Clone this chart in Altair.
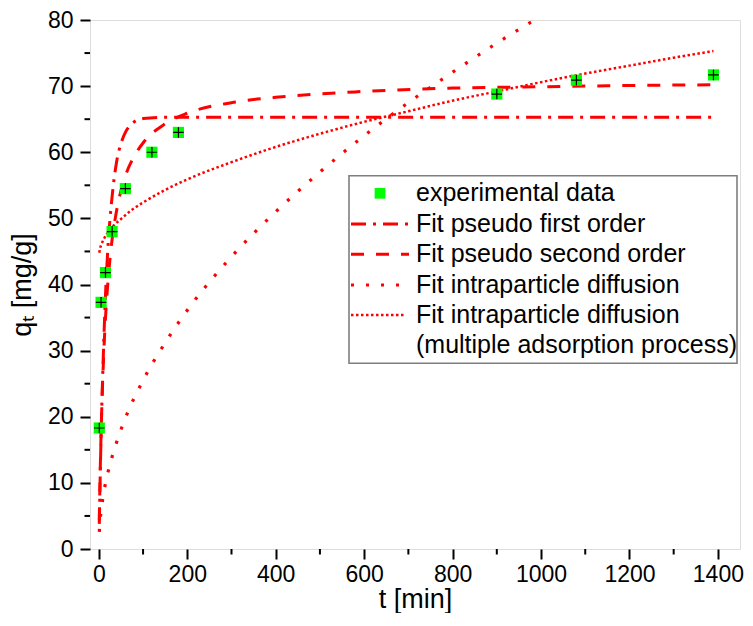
import altair as alt
import pandas as pd

# ---- data ----
exp_t = [1, 5, 15, 30, 60, 120, 180, 900, 1080, 1390]
exp_q = [18.3, 37.3, 41.8, 48.0, 54.5, 60.0, 63.0, 68.8, 70.9, 71.7]

pfo_t = [1, 2, 5, 10, 15, 20, 30, 40, 50, 60, 70, 80, 100, 150, 200, 1390]
pfo_q = [3.8, 7.4, 17.0, 29.0, 38.3, 45.0, 53.3, 58.5, 61.3, 63.0, 64.0, 64.6, 65.1, 65.3, 65.3, 65.3]

pso_t = [1, 2, 5, 10, 15, 20, 30, 40, 60, 80, 100, 150, 200, 300, 400, 600, 800, 1000, 1200, 1390]
pso_q = [4.3, 8.1, 17.3, 27.8, 34.9, 39.9, 46.8, 51.1, 56.4, 59.4, 61.4, 64.3, 65.9, 67.5, 68.3, 69.2, 69.7, 69.9, 70.1, 70.2]

ipd_t = [1, 3, 6, 10, 20, 40, 60, 100, 150, 200, 300, 400, 500, 600, 700, 800, 900, 985]
ipd_q = [2.6, 4.4, 6.2, 8.1, 11.4, 16.1, 19.8, 25.5, 31.2, 36.1, 44.2, 51.0, 57.0, 62.5, 67.5, 72.1, 76.5, 80.0]

multi_t = [1, 3, 6, 10, 20, 35, 50, 75, 100, 150, 200, 300, 400, 500, 600, 700, 800, 900, 1000, 1100, 1200, 1300, 1390]
multi_q = [44.8, 45.5, 46.1, 46.7, 47.8, 49.0, 49.9, 51.3, 52.4, 54.3, 55.9, 58.5, 60.8, 62.8, 64.6, 66.2, 67.8, 69.2, 70.6, 71.9, 73.1, 74.3, 75.3]

x_ticks = [0, 200, 400, 600, 800, 1000, 1200, 1400]
x_minor = [100, 300, 500, 700, 900, 1100, 1300]
y_ticks = [0, 10, 20, 30, 40, 50, 60, 70, 80]
y_minor = [5, 15, 25, 35, 45, 55, 65, 75]

legend_labels = [
    "experimental data",
    "Fit pseudo first order",
    "Fit pseudo second order",
    "Fit intraparticle diffusion",
    "Fit intraparticle diffusion",
    "(multiple adsorption process)",
]

# ---- layout ----
W, H = 650, 529
FONT = "Liberation Sans"
RED = "#ff0000"
GREEN = "#00ff00"

xs = alt.Scale(domain=[-20, 1450], nice=False, zero=False)
ys = alt.Scale(domain=[0, 80], nice=False)
xaxis = alt.Axis(values=x_ticks, format="d", title="t [min]", grid=False, domain=False,
                 tickSize=10, tickWidth=2, tickColor="black",
                 labelFont=FONT, labelFontSize=23, labelColor="black", labelPadding=4,
                 titleFont=FONT, titleFontSize=27, titleFontWeight="normal",
                 titleColor="black", titlePadding=0)
yaxis = alt.Axis(values=y_ticks, format="d", title="qₜ [mg/g]", grid=False, domain=False,
                 tickSize=10, tickWidth=2, tickColor="black",
                 labelFont=FONT, labelFontSize=23, labelColor="black", labelPadding=7,
                 titleFont=FONT, titleFontSize=27, titleFontWeight="normal",
                 titleColor="black", titlePadding=11)


def X(f):
    return alt.X(f + ":Q", scale=xs, axis=xaxis)


def Y(f):
    return alt.Y(f + ":Q", scale=ys, axis=yaxis)


def line(ts, qs, dash, width):
    df = pd.DataFrame({"t": ts, "q": qs})
    return alt.Chart(df).mark_line(color=RED, strokeWidth=width, strokeDash=dash,
                                   strokeCap="butt", interpolate="monotone").encode(
        x=X("t"), y=Y("q"), order="t:Q")


DASH_PFO = [15, 7, 3, 7]
DASH_PSO = [13, 12]
DASH_IPD = [3, 12]
DASH_MULTI = [2.5, 2.5]

l_pfo = line(pfo_t, pfo_q, DASH_PFO, 3)
l_pso = line(pso_t, pso_q, DASH_PSO, 3)
l_ipd = line(ipd_t, ipd_q, DASH_IPD, 3.2)
l_multi = line(multi_t, multi_q, DASH_MULTI, 2.5)

exp_df = pd.DataFrame({"t": exp_t, "q": exp_q})
pts = alt.Chart(exp_df).mark_square(color=GREEN, opacity=1, size=125).encode(x=X("t"), y=Y("q"))
err = alt.Chart(exp_df).mark_point(shape="M-1,0H1M0,-1V1", filled=False, stroke="black",
                                   strokeWidth=1.2, size=110, opacity=1).encode(x=X("t"), y=Y("q"))

minx = alt.Chart(pd.DataFrame({"t": x_minor})).mark_rule(color="black", strokeWidth=2).encode(
    x=X("t"), y=alt.value(H), y2=alt.value(H + 5.5))
miny = alt.Chart(pd.DataFrame({"q": y_minor})).mark_rule(color="black", strokeWidth=2).encode(
    y=Y("q"), x=alt.value(-5.5), x2=alt.value(0))

# ---- legend ----
one = pd.DataFrame({"k": [0]})
LX1 = W - 3
LX0 = LX1 - 388
LY0, LY1 = 155.7, 343.3
leg_box = alt.Chart(one).mark_rect(fill="white", stroke="#7f7f7f", strokeWidth=1.6).encode(
    x=alt.value(LX0), x2=alt.value(LX1), y=alt.value(LY0), y2=alt.value(LY1))
rows = [173.3, 204.0, 234.3, 265.0, 295.0, 325.0]
leg_sq = alt.Chart(one).mark_square(color=GREEN, opacity=1, size=115).encode(
    x=alt.value(LX0 + 31), y=alt.value(rows[0]))


def leg_line(yy, dash, width, length=58):
    return alt.Chart(one).mark_rule(color=RED, strokeWidth=width, strokeDash=dash,
                                    strokeCap="butt").encode(
        x=alt.value(LX0 + 2), x2=alt.value(LX0 + 2 + length), y=alt.value(yy))


leg_lines = [leg_line(rows[1], DASH_PFO, 3), leg_line(rows[2], DASH_PSO, 3),
             leg_line(rows[3], DASH_IPD, 3.2), leg_line(rows[4], DASH_MULTI, 2.5, 55)]
leg_texts = []
for i, lab in enumerate(legend_labels):
    leg_texts.append(alt.Chart(pd.DataFrame({"label": [lab]})).mark_text(
        align="left", baseline="middle", font=FONT, fontSize=25, color="black").encode(
        x=alt.value(LX0 + 67), y=alt.value(rows[i]), text="label:N"))

chart = alt.layer(
    minx, miny, l_pfo, l_pso, l_ipd, l_multi, pts, err,
    leg_box, leg_sq, *leg_lines, *leg_texts
).properties(
    width=W, height=H,
    autosize=alt.AutoSizeParams(type="none"),
    padding={"left": 82, "top": 12, "right": 5, "bottom": 64},
).configure_view(stroke="black", strokeWidth=2.3).configure(background="white")

chart.save("out.html", embed_options={"renderer": "svg", "actions": False})
